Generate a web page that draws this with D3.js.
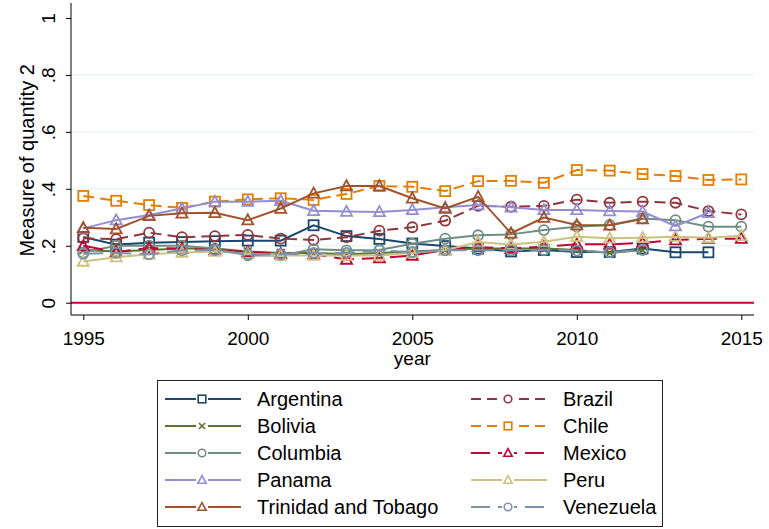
<!DOCTYPE html>
<html><head><meta charset="utf-8">
<script src="https://cdn.jsdelivr.net/npm/d3@7"></script>
<style>body{margin:0;background:#fff}svg{display:block}text{font-family:"Liberation Sans",Arial,sans-serif;fill:#000}</style>
</head><body><div id="chart"></div>
<script>
const years = d3.range(1995, 2016);
const argentina = [.231,.204,.211,.213,.216,.218,.218,.272,.234,.224,.208,.199,.19,.18,.185,.178,.178,.19,.177,.177];
const bolivia = [.185,.18,.185,.19,.19,.18,.175,.175,.17,.175,.18,.185,.19,.19,.19,.185,.175,.185];
const columbia = [.176,.2,.2,.2,.19,.166,.166,.188,.184,.185,.207,.225,.237,.24,.255,.267,.273,.296,.29,.267,.267];
const panama = [.261,.29,.308,.331,.355,.355,.358,.323,.32,.319,.326,.335,.343,.335,.326,.326,.322,.32,.269,.316];
const trinidad = [.263,.259,.305,.314,.316,.29,.331,.384,.41,.41,.367,.331,.372,.244,.299,.273,.272,.294];
const brazil = [.226,.223,.246,.23,.234,.238,.225,.22,.23,.253,.265,.288,.34,.337,.34,.362,.351,.355,.351,.322,.31];
const chile = [.375,.358,.343,.333,.355,.363,.367,.361,.382,.41,.407,.392,.427,.428,.421,.466,.464,.452,.445,.431,.433];
const mexico = [.2,.178,.192,.19,.185,.178,.172,.17,.152,.157,.166,.185,.196,.19,.197,.205,.205,.21,.22,.225,.225];
const peru = [.145,.16,.17,.176,.18,.172,.166,.166,.166,.166,.175,.184,.213,.204,.214,.232,.226,.228,.232,.228,.235];
const venezuela = [.172,.175,.17,.184,.185,.17,.17,.175,.175,.184,.178,.184,.184,.184,.185,.183,.177,.185];
const yTicks = [0, .2, .4, .6, .8, 1];
const yTickLabels = ["0", ".2", ".4", ".6", ".8", "1"];
const xTicks = [1995, 2000, 2005, 2010, 2015];

const series = [
  {name:"Argentina", vals:argentina, color:"#1a476f", dash:null, marker:"square"},
  {name:"Brazil", vals:brazil, color:"#90353b", dash:"11,6", marker:"circle"},
  {name:"Bolivia", vals:bolivia, color:"#55752f", dash:null, marker:"x"},
  {name:"Chile", vals:chile, color:"#e37e00", dash:"11,6", marker:"square"},
  {name:"Columbia", vals:columbia, color:"#6e8e84", dash:null, marker:"circle"},
  {name:"Mexico", vals:mexico, color:"#c10534", dash:"20,8", marker:"triangle"},
  {name:"Panama", vals:panama, color:"#938dd2", dash:null, marker:"triangle"},
  {name:"Peru", vals:peru, color:"#cac27e", dash:null, marker:"triangle"},
  {name:"Trinidad and Tobago", vals:trinidad, color:"#a0522d", dash:null, marker:"triangle"},
  {name:"Venezuela", vals:venezuela, color:"#7b92a8", dash:"20,8", marker:"circle"}
];

const W = 769, H = 529;
const svg = d3.select("#chart").append("svg").attr("width", W).attr("height", H);
const x = d3.scaleLinear().domain([1995, 2015]).range([83.3, 741.3]);
const y = d3.scaleLinear().domain([0, 1]).range([302.7, 18]);
const plotL = 71, plotR = 754, plotB = 315, plotT = 3;

// grid
svg.append("g").selectAll("line").data(yTicks.filter(d => d > 0 && d < 1)).join("line")
  .attr("x1", plotL).attr("x2", plotR).attr("y1", d => y(d)).attr("y2", d => y(d))
  .attr("stroke", "#eaf2f3").attr("stroke-width", 1.2);

// y=0 line
svg.append("line").attr("x1", plotL).attr("x2", plotR).attr("y1", y(0)).attr("y2", y(0))
  .attr("stroke", "#c10534").attr("stroke-width", 2);

// axes
const yAxis = d3.axisLeft(y).tickValues(yTicks).tickFormat((d,i) => yTickLabels[i]).tickSize(5).tickSizeOuter(0);
const gy = svg.append("g").attr("transform", `translate(${plotL},0)`).call(yAxis);
gy.select(".domain").remove();
gy.selectAll(".tick line").attr("stroke", "#000");
gy.selectAll(".tick text").attr("font-size", 19).attr("transform", "rotate(-90)")
  .attr("x", 0).attr("y", -16).attr("dy", 0).attr("text-anchor", "middle")
  .attr("font-family", "Liberation Sans, Arial, sans-serif");
svg.append("line").attr("x1", plotL).attr("x2", plotL).attr("y1", plotT).attr("y2", plotB).attr("stroke", "#000").attr("stroke-width", 1);

const xAxis = d3.axisBottom(x).tickValues(xTicks).tickFormat(d3.format("d")).tickSize(5).tickSizeOuter(0);
const gx = svg.append("g").attr("transform", `translate(0,${plotB})`).call(xAxis);
gx.select(".domain").remove();
gx.selectAll(".tick line").attr("stroke", "#000");
gx.selectAll(".tick text").attr("font-size", 19).attr("dy", 0).attr("y", 30)
  .attr("font-family", "Liberation Sans, Arial, sans-serif");
svg.append("line").attr("x1", plotL).attr("x2", plotR).attr("y1", plotB).attr("y2", plotB).attr("stroke", "#000").attr("stroke-width", 1);

svg.append("text").attr("x", (83.3+741.3)/2).attr("y", 365).attr("text-anchor", "middle").attr("font-size", 19).text("year");
svg.append("text").attr("transform", `translate(34,${(y(0)+y(1))/2}) rotate(-90)`).attr("text-anchor", "middle").attr("font-size", 20).text("Measure of quantity 2");

function drawMarker(g, type, cx, cy, s, color, sw) {
  if (type === "square") {
    g.append("rect").attr("x", cx - s).attr("y", cy - s).attr("width", 2*s).attr("height", 2*s)
      .attr("fill", "none").attr("stroke", color).attr("stroke-width", sw);
  } else if (type === "circle") {
    g.append("circle").attr("cx", cx).attr("cy", cy).attr("r", s).attr("fill", "none").attr("stroke", color).attr("stroke-width", sw);
  } else if (type === "triangle") {
    const h = s * 1.15;
    g.append("path").attr("d", `M${cx},${cy - h}L${cx + s*1.1},${cy + h*0.75}L${cx - s*1.1},${cy + h*0.75}Z`)
      .attr("fill", "none").attr("stroke", color).attr("stroke-width", sw);
  } else if (type === "x") {
    const k = s * 0.8;
    g.append("path").attr("d", `M${cx-k},${cy-k}L${cx+k},${cy+k}M${cx-k},${cy+k}L${cx+k},${cy-k}`)
      .attr("stroke", color).attr("stroke-width", sw);
  }
}

const line = d3.line().x(d => x(d[0])).y(d => y(d[1]));
series.forEach(s => {
  const pts = s.vals.map((v, i) => [years[i], v]);
  const g = svg.append("g");
  g.append("path").datum(pts).attr("d", line).attr("fill", "none").attr("stroke", s.color)
    .attr("stroke-width", 2).attr("stroke-dasharray", s.dash);
  pts.forEach(p => drawMarker(g, s.marker, x(p[0]), y(p[1]), 5, s.color, 1.8));
});

// legend
const lg = svg.append("g");
lg.append("rect").attr("x", 157.5).attr("y", 380.5).attr("width", 505).attr("height", 146)
  .attr("fill", "#fff").attr("stroke", "#222").attr("stroke-width", 1);
const col1 = ["Argentina","Bolivia","Columbia","Panama","Trinidad and Tobago"];
const col2 = ["Brazil","Chile","Mexico","Peru","Venezuela"];
const legendCols = [{names: col1, x0: 165, x1: 241, mx: 202, tx: 257}, {names: col2, x0: 471, x1: 547, mx: 508, tx: 563}];
legendCols.forEach(c => {
  c.names.forEach((n, i) => {
    const s = series.find(d => d.name === n);
    const yy = 399 + i * 27;
    lg.append("line").attr("x1", c.x0).attr("x2", c.x1).attr("y1", yy).attr("y2", yy)
      .attr("stroke", s.color).attr("stroke-width", 2).attr("stroke-dasharray", s.dash ? (s.dash === "11,6" ? "10,6" : "19,8") : null);
    lg.append("rect").attr("x", c.mx - 6).attr("y", yy - 6).attr("width", 12).attr("height", 12).attr("fill", "#fff");
    drawMarker(lg, s.marker, c.mx, yy, 3.8, s.color, 1.6);
    lg.append("text").attr("x", c.tx).attr("y", yy + 7).attr("font-size", 20).text(n);
  });
});
</script></body></html>
